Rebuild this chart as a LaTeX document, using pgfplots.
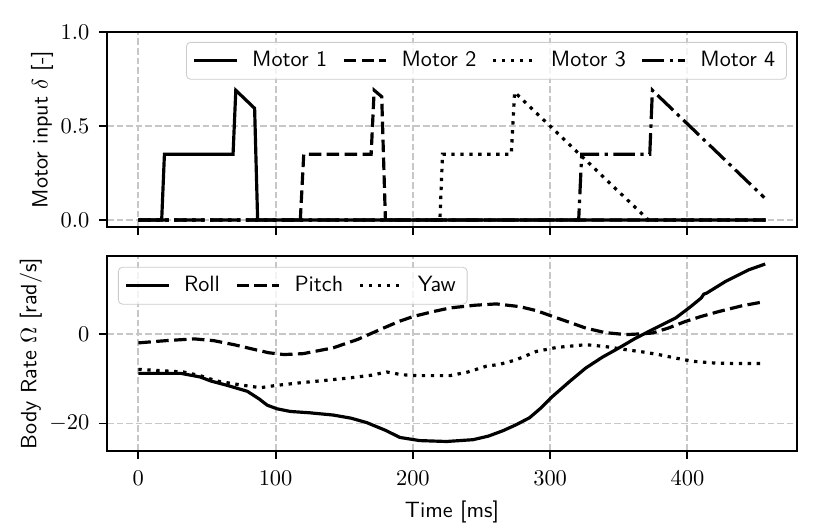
\documentclass[border=0pt]{standalone}
\usepackage{pgfplots}
\pgfplotsset{compat=1.18}
\newcommand{\fs}{\fontsize{10.8}{13}\selectfont}
\begin{document}
\begin{tikzpicture}
\pgfplotsset{
  common/.style={
    width=336.6pt, height=95.1pt, scale only axis,
    xmin=-22.85, xmax=479.85,
    axis line style={line width=0.88pt},
    every tick/.style={line width=0.88pt, black},
    tick align=outside, major tick length=3.85pt,
    xtick pos=bottom, ytick pos=left,
    xtick={0,100,200,300,400},
    ticklabel style={font=\fs},
    xticklabel shift=2.3pt, yticklabel shift=1.2pt,
    ylabel shift=-3.2pt, xlabel shift=1pt,
    grid=major,
    grid style={dash pattern=on 3.26pt off 1.41pt, line width=0.88pt, color=black!22},
    label style={font=\fs\sffamily},
    legend cell align=left,
    legend image code/.code={\draw[#1] (0pt,0pt) -- (20.8pt,0pt);},
    legend style={font=\fs\sffamily, draw=black!20, rounded corners=2pt, fill=white, fill opacity=0.8, text opacity=1,
      inner xsep=3pt, inner ysep=2.5pt,
      nodes={inner xsep=2.5pt, inner ysep=2pt},
      /tikz/every odd column/.append style={column sep=4.2pt},
      /tikz/every even column/.append style={column sep=4.8pt}},
  },
  l1/.style={black, line width=1.55pt, solid},
  l2/.style={black, line width=1.55pt, dash pattern=on 6.1pt off 2.64pt},
  l3/.style={black, line width=1.55pt, dash pattern=on 1.65pt off 2.72pt},
  l4/.style={black, line width=1.55pt, dash pattern=on 10.56pt off 2.64pt on 1.65pt off 2.64pt},
}
\begin{axis}[common, name=top,
  ymin=-0.037, ymax=1.0,
  ytick={0,0.5,1.0},
  yticklabel style={/pgf/number format/.cd, fixed, fixed zerofill, precision=1},
  xticklabels={},
  ylabel={Motor input $\delta$ [-]},
  legend columns=4,
  legend style={at={(0.9855,0.949)}, anchor=north east},
]
\addplot[l1] coordinates {(0,0) (17,0) (19,0.35) (69,0.35) (71,0.69) (84.7,0.594) (86.9,0) (457,0)};
\addplot[l2] coordinates {(0,0) (118,0) (120.5,0.35) (169.6,0.35) (171.8,0.69) (177.3,0.656) (180,0) (457,0)};
\addplot[l3] coordinates {(0,0) (219.7,0) (221.6,0.35) (271.7,0.35) (274.1,0.68) (371.6,0) (457,0)};
\addplot[l4] coordinates {(0,0) (320.8,0) (323,0.35) (372.6,0.35) (374.5,0.69) (456,0.119)};
\legend{Motor 1, Motor 2, Motor 3, Motor 4}
\end{axis}
\begin{axis}[common, name=bot,
  at={(top.south west)}, anchor=north west, yshift=-14.15pt,
  ymin=-26.1, ymax=17.4,
  ytick={-20,0},
  ylabel={Body Rate $\Omega$ [rad/s]},
  xlabel={Time [ms]},
  legend columns=3,
  legend style={at={(0.0159,0.944)}, anchor=north west},
]
\addplot[l1] coordinates {(0,-8.8) (31,-8.8) (45,-9.6) (52.8,-10.5) (65,-11.5) (79.4,-12.8) (88,-14.5) (93.9,-15.9) (101,-16.7) (110.8,-17.3) (125,-17.6) (142,-18.1) (155,-18.8) (166.5,-19.8) (180,-21.5) (190.6,-23.1) (205,-23.8) (224.5,-24.0) (243.8,-23.6) (255,-22.8) (265.6,-21.6) (275,-20.3) (285,-18.7) (293,-16.6) (301.9,-13.9) (315,-10.4) (326,-7.6) (338,-5.2) (350.3,-3.1) (362,-1.0) (374.5,0.96) (391.4,3.55) (402,6.0) (410,8.0) (412,8.9) (414,9.1) (427.7,11.7) (444.6,14.3) (456.7,15.6)};
\addplot[l2] coordinates {(0,-2.0) (20,-1.5) (40.6,-1.1) (55,-1.5) (69.7,-2.4) (85,-3.5) (95,-4.2) (106,-4.6) (120,-4.4) (142,-3.1) (160,-1.2) (178.5,1.3) (190,2.8) (200.3,3.9) (215,5.0) (227,5.8) (245,6.4) (260.8,6.7) (277.7,6.1) (290,5.2) (301.9,3.9) (315,2.5) (326,1.3) (340,0.3) (355.2,-0.15) (365,0) (374.5,0.2) (386,1.3) (398.7,2.8) (410,3.9) (422.9,5.0) (440,6.3) (454.3,7.1)};
\addplot[l3] coordinates {(0,-7.9) (33,-8.5) (45,-9.3) (57,-10.5) (75,-11.4) (89,-12.0) (100,-11.5) (118,-10.9) (135,-10.4) (154.3,-9.8) (170,-9.2) (181,-8.5) (192,-9.1) (202.7,-9.3) (227,-9.3) (240,-8.5) (253.5,-7.2) (263,-6.8) (275,-5.8) (290,-3.9) (305,-3.0) (326,-2.4) (340,-2.8) (355,-3.5) (367,-4.0) (379,-4.6) (390,-5.3) (403.5,-6.1) (420,-6.5) (435,-6.6) (455,-6.6)};
\legend{Roll, Pitch, Yaw}
\end{axis}
\pgfresetboundingbox
\path ([shift={(-52.19pt,15.61pt)}]top.north west) rectangle ([shift={(16.10pt,-39.17pt)}]bot.south east);
\end{tikzpicture}
\end{document}
